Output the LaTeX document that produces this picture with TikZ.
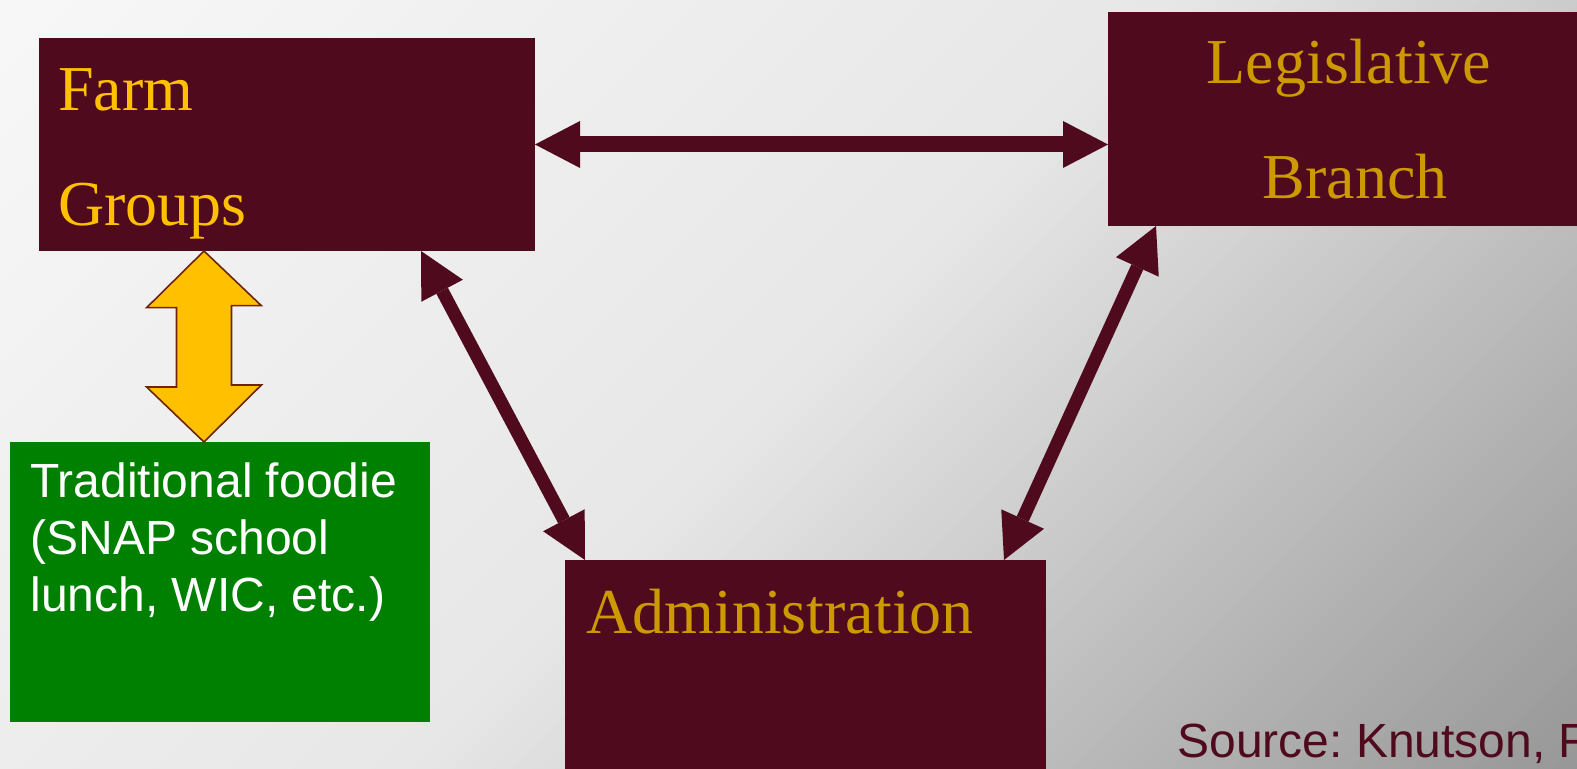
\documentclass[tikz,border=0pt]{standalone}
\usepackage{fontspec}
\setmainfont{Liberation Serif}
\newfontfamily\arialfont{Liberation Sans}
\usetikzlibrary{arrows.meta}
\usetikzlibrary{positioning}
\definecolor{maroon}{HTML}{4F0A1E}
\definecolor{gold}{HTML}{CC9900}
\definecolor{amber}{HTML}{FFC000}
\definecolor{leaf}{HTML}{008000}
\definecolor{rim}{HTML}{6E2408}
\frenchspacing

\begin{document}
\begin{tikzpicture}[x=0.5pt, y=-0.5pt,
    box/.style={rectangle, fill=maroon, inner sep=0pt, outer sep=0pt},
    title/.style={font=\fontsize{32}{38}\selectfont, text=gold, inner sep=0pt, anchor=base west},
    note/.style={font=\arialfont\fontsize{24}{28}\selectfont, text=white, inner sep=0pt, anchor=base west},
    link/.style={draw=maroon, line width=8pt, >={Triangle[length=22.5pt, width=23.5pt, line width=0pt]}, <->},
    fatarrow/.style={fill=amber, draw=rim, line width=0.8pt, line join=miter}]
    \useasboundingbox (0,0) rectangle (1577,769);
    \clip (0,0) rectangle (1577,769);
    \foreach \s in {0,20,...,2360} {
        \pgfmathsetmacro\t{\s/2346}
        \pgfmathsetmacro\g{\t<0.5 ? 97-13*\t : (\t<0.835 ? 90.5-64.2*(\t-0.5) : 69-60.6*(\t-0.835))}
        \fill[white!\g!black] (\s,0) -- (2400,0) -- (2400,2400) -- (\s-2400,2400) -- cycle;
    }
    \node[box, minimum width=248pt, minimum height=106.5pt] (farm) at (287,144.5) {};
    \node[box, minimum width=242pt, minimum height=107pt] (legis) at (1350,119) {};
    \node[box, minimum width=240.5pt, minimum height=110pt] (admin) at (805.5,670) {};
    \node[box, fill=leaf, minimum width=210pt, minimum height=140pt] (food) at (220,582) {};
    \node[title, text=amber] (farm1) at (58,111) {Farm};
    \node[title, text=amber] (farm2) at (58,226) {Groups};
    \node[title, anchor=base] (legis1) at (1349,84) {Legislative};
    \node[title, anchor=base] (legis2) at (1355,199) {Branch};
    \node[title] (admin1) at (586,633) {Administration};
    \node[note] (food1) at (30,497) {Traditional foodie};
    \node[note] (food2) at (30,554) {(SNAP school};
    \node[note] (food3) at (30,611) {lunch, WIC, etc.)};
    \node[note, text=maroon] (src) at (1177,757) {Source: Knutson, F};
    \draw[link] (farm.east) -- (farm.east -| legis.west);
    \draw[link, line width=6.5pt] ([xshift=191pt]farm.south west) -- ([xshift=10pt]admin.north west);
    \draw[link, line width=6.5pt] ([xshift=24pt]legis.south west) -- ([xshift=-21pt]admin.north east);
    \coordinate (up) at ([xshift=82.5pt]farm.south west);
    \coordinate (dn) at ([xshift=97pt]food.north west);
    \draw[fatarrow] (up) -- ++(57.4,54.7) -- ++(-29.9,0) -- ++(0,79.3) -- ++(29.9,0) -- (dn)
        -- ++(-57.4,-55) -- ++(29.9,0) -- ++(0,-79.3) -- ++(-29.9,0) -- cycle;
\end{tikzpicture}
\end{document}
